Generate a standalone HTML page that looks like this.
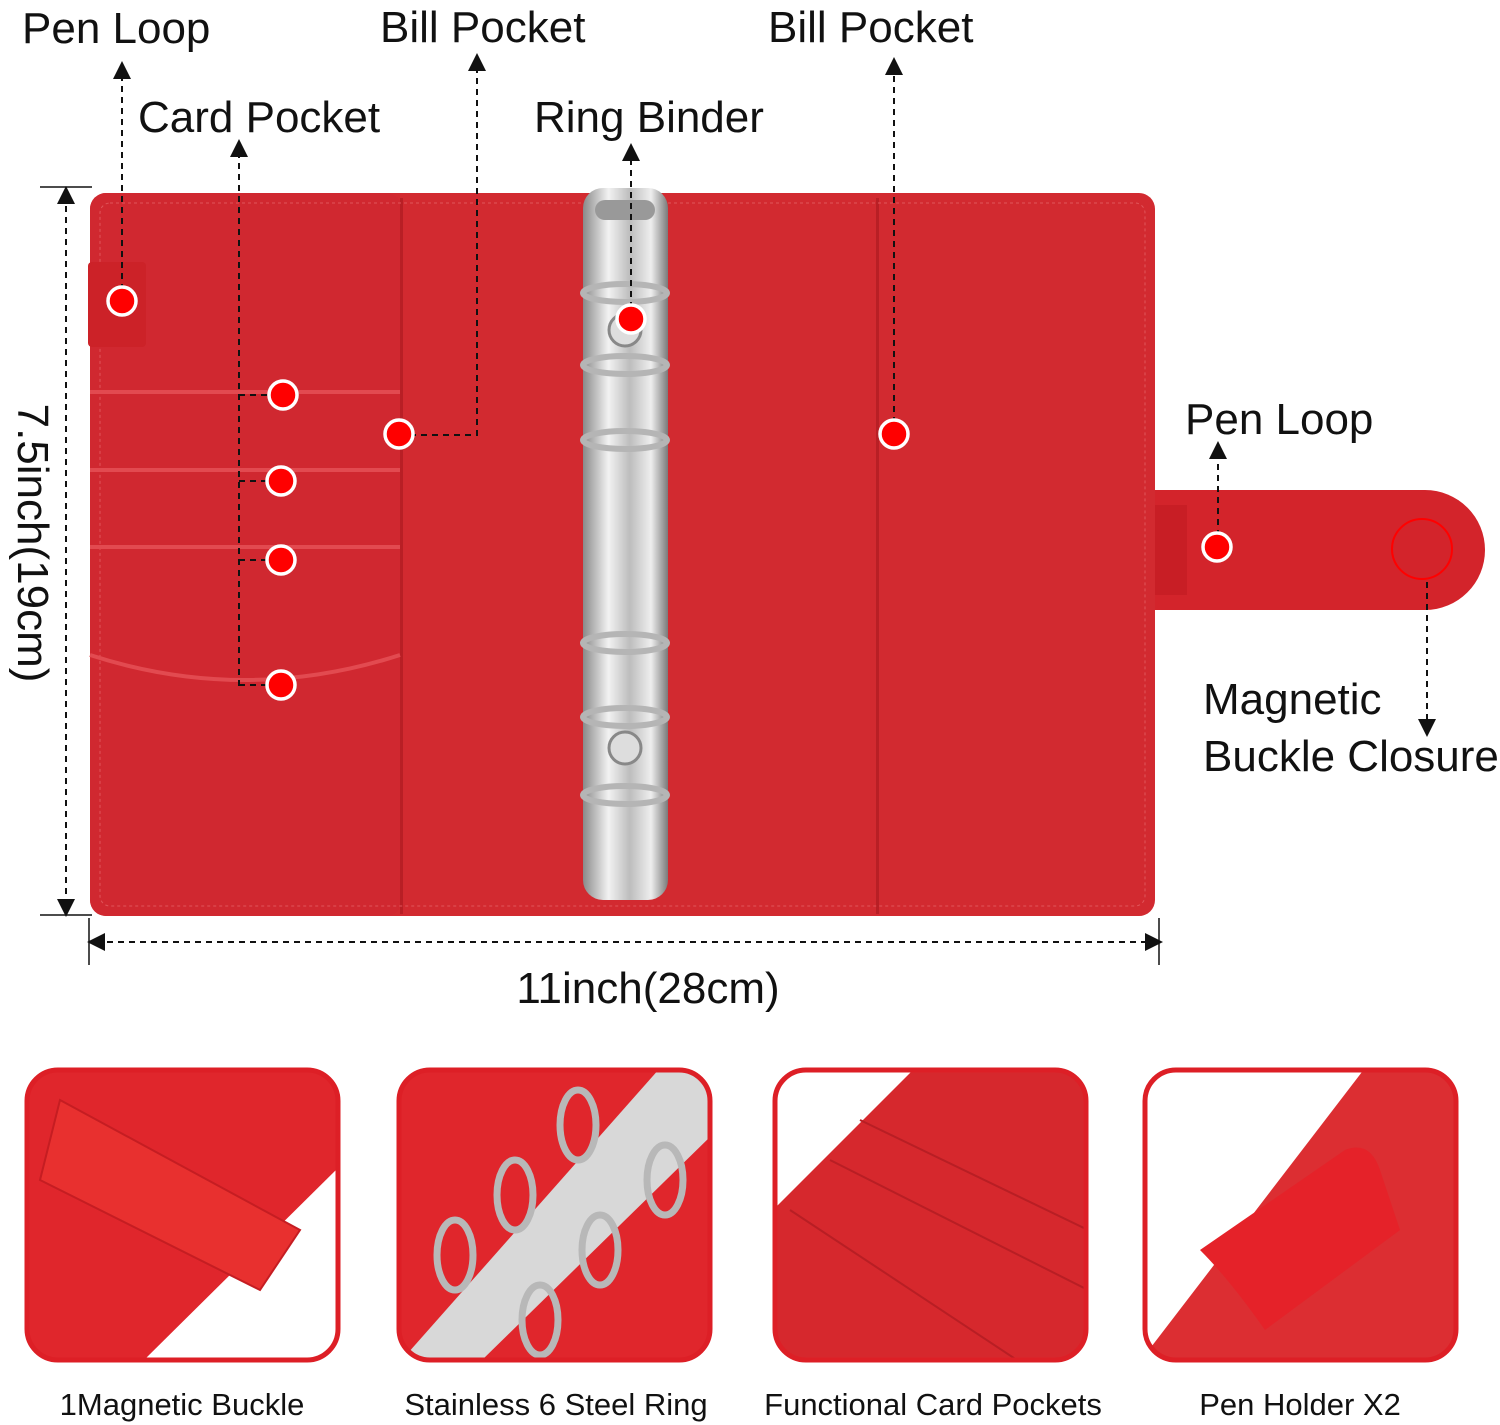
<!DOCTYPE html>
<html><head><meta charset="utf-8"><style>
body{margin:0;background:#fff;width:1500px;height:1425px;overflow:hidden}
svg{display:block}
text{font-family:"Liberation Sans",sans-serif;fill:#111}
</style></head><body>
<svg width="1500" height="1425" viewBox="0 0 1500 1425" xmlns="http://www.w3.org/2000/svg">
<defs>
<linearGradient id="silver" x1="0" x2="1" y1="0" y2="0">
<stop offset="0" stop-color="#8a8a8a"/><stop offset="0.3" stop-color="#f2f2f2"/><stop offset="0.55" stop-color="#bdbdbd"/><stop offset="0.8" stop-color="#eeeeee"/><stop offset="1" stop-color="#7a7a7a"/>
</linearGradient>
<marker id="ar" viewBox="0 0 10 10" refX="5" refY="5" markerWidth="9" markerHeight="9" orient="auto-start-reverse"><path d="M0,0 L10,5 L0,10 z" fill="#111"/></marker>
<clipPath id="c1"><rect x="25" y="1068" width="315" height="294" rx="32"/></clipPath>
<clipPath id="c2"><rect x="397" y="1068" width="315" height="294" rx="32"/></clipPath>
<clipPath id="c3"><rect x="773" y="1068" width="315" height="294" rx="32"/></clipPath>
<clipPath id="c4"><rect x="1143" y="1068" width="315" height="294" rx="32"/></clipPath>
</defs>

<!-- strap -->
<path d="M1140,490 L1425,490 A60,60 0 0 1 1425,610 L1140,610 Z" fill="#d3242b"/>
<rect x="1155" y="505" width="32" height="90" fill="#c81e25"/>
<circle cx="1422" cy="549" r="30" fill="none" stroke="#f00" stroke-width="2"/>

<!-- binder body -->
<rect x="90" y="193" width="1065" height="723" rx="16" fill="#d22a30"/>
<rect x="90" y="193" width="312" height="723" rx="16" fill="#d02830"/>
<rect x="400" y="198" width="3" height="716" fill="#b81f25"/>
<rect x="876" y="198" width="3" height="716" fill="#b81f25"/>
<rect x="100" y="203" width="1045" height="703" rx="10" fill="none" stroke="#e0555a" stroke-width="1" stroke-dasharray="3 3"/>
<!-- card pockets -->
<rect x="90" y="390" width="310" height="4" fill="#e24a50"/>
<rect x="90" y="468" width="310" height="4" fill="#e24a50"/>
<rect x="90" y="545" width="310" height="4" fill="#e24a50"/>
<path d="M90,655 Q245,705 400,655" fill="none" stroke="#e24a50" stroke-width="4"/>
<rect x="88" y="262" width="58" height="85" rx="4" fill="#cc2228"/>

<!-- ring spine -->
<rect x="583" y="188" width="85" height="712" rx="20" fill="url(#silver)"/>
<rect x="595" y="200" width="60" height="20" rx="10" fill="#999"/>
<g fill="none" stroke="#b5b5b5" stroke-width="6">
<ellipse cx="625" cy="293" rx="42" ry="9"/>
<ellipse cx="625" cy="365" rx="42" ry="9"/>
<ellipse cx="625" cy="440" rx="42" ry="9"/>
<ellipse cx="625" cy="643" rx="42" ry="9"/>
<ellipse cx="625" cy="717" rx="42" ry="9"/>
<ellipse cx="625" cy="795" rx="42" ry="9"/>
</g>
<circle cx="625" cy="330" r="16" fill="#ddd" stroke="#888" stroke-width="3"/>
<circle cx="625" cy="748" r="16" fill="#ddd" stroke="#888" stroke-width="3"/>

<!-- connectors -->
<g stroke="#111" stroke-width="2" stroke-dasharray="6 5" fill="none">
<line x1="122" y1="301" x2="122" y2="70" marker-end="url(#ar)"/>
<line x1="239" y1="686" x2="239" y2="148" marker-end="url(#ar)"/>
<line x1="239" y1="395" x2="283" y2="395"/>
<line x1="239" y1="481" x2="281" y2="481"/>
<line x1="239" y1="560" x2="281" y2="560"/>
<line x1="239" y1="685" x2="281" y2="685"/>
<polyline points="399,435 477,435 477,62" marker-end="url(#ar)"/>
<line x1="631" y1="319" x2="631" y2="152" marker-end="url(#ar)"/>
<line x1="894" y1="434" x2="894" y2="66" marker-end="url(#ar)"/>
<line x1="1218" y1="547" x2="1218" y2="450" marker-end="url(#ar)"/>
<line x1="1427" y1="582" x2="1427" y2="728" marker-end="url(#ar)"/>
<line x1="66" y1="195" x2="66" y2="908" marker-start="url(#ar)" marker-end="url(#ar)"/>
<line x1="96" y1="942" x2="1154" y2="942" marker-start="url(#ar)" marker-end="url(#ar)"/>
</g>
<g stroke="#111" stroke-width="1.5">
<line x1="40" y1="187" x2="92" y2="187"/>
<line x1="40" y1="915" x2="92" y2="915"/>
<line x1="89" y1="918" x2="89" y2="965"/>
<line x1="1159" y1="918" x2="1159" y2="965"/>
</g>

<!-- dots -->
<g fill="#f00" stroke="#fff" stroke-width="3.5">
<circle cx="122" cy="301" r="14"/>
<circle cx="283" cy="395" r="14"/>
<circle cx="281" cy="481" r="14"/>
<circle cx="281" cy="560" r="14"/>
<circle cx="281" cy="685" r="14"/>
<circle cx="399" cy="434" r="14"/>
<circle cx="631" cy="319" r="14"/>
<circle cx="894" cy="434" r="14"/>
<circle cx="1217" cy="547" r="14"/>
</g>

<!-- labels -->
<g font-size="44">
<text x="22" y="43">Pen  Loop</text>
<text x="138" y="132">Card Pocket</text>
<text x="380" y="42">Bill Pocket</text>
<text x="534" y="132">Ring Binder</text>
<text x="768" y="42">Bill Pocket</text>
<text x="1185" y="434">Pen  Loop</text>
<text x="1203" y="714">Magnetic</text>
<text x="1203" y="771">Buckle Closure</text>
<text x="648" y="1003" text-anchor="middle">11inch(28cm)</text>
<text transform="translate(18,543) rotate(90)" text-anchor="middle">7.5inch(19cm)</text>
</g>

<!-- thumbnails -->
<g clip-path="url(#c1)">
<rect x="25" y="1068" width="315" height="294" fill="#e0262c"/>
<polygon points="142,1362 340,1166 340,1362" fill="#fff"/>
<path d="M60,1100 L300,1230 L260,1290 L40,1180 Z" fill="#e8302f" stroke="#c51d22" stroke-width="2"/>
</g>
<rect x="27" y="1070" width="311" height="290" rx="31" fill="none" stroke="#dd1f26" stroke-width="5"/>
<g clip-path="url(#c2)">
<rect x="397" y="1068" width="315" height="294" fill="#e0262c"/>
<polygon points="400,1362 480,1362 712,1135 712,1068 660,1068" fill="#d8d8d8"/>
<g fill="none" stroke="#b8b8b8" stroke-width="7">
<ellipse cx="455" cy="1255" rx="18" ry="35"/><ellipse cx="515" cy="1195" rx="18" ry="35"/>
<ellipse cx="578" cy="1125" rx="18" ry="35"/><ellipse cx="540" cy="1320" rx="18" ry="35"/>
<ellipse cx="600" cy="1250" rx="18" ry="35"/><ellipse cx="665" cy="1180" rx="18" ry="35"/>
</g>
</g>
<rect x="399" y="1070" width="311" height="290" rx="31" fill="none" stroke="#dd1f26" stroke-width="5"/>
<g clip-path="url(#c3)">
<rect x="773" y="1068" width="315" height="294" fill="#d6282d"/>
<polygon points="773,1068 915,1068 773,1210" fill="#fff"/>
<g stroke="#b81e24" stroke-width="2" fill="none">
<line x1="860" y1="1120" x2="1088" y2="1230"/>
<line x1="830" y1="1160" x2="1088" y2="1290"/>
<line x1="790" y1="1210" x2="1020" y2="1362"/>
</g>
</g>
<rect x="775" y="1070" width="311" height="290" rx="31" fill="none" stroke="#dd1f26" stroke-width="5"/>
<g clip-path="url(#c4)">
<rect x="1143" y="1068" width="315" height="294" fill="#dc2e32"/>
<polygon points="1143,1068 1365,1068 1145,1355" fill="#fff"/>
<path d="M1200,1250 L1345,1150 Q1370,1140 1380,1170 L1400,1230 L1265,1330 Q1230,1280 1200,1250 Z" fill="#e52229"/>
</g>
<rect x="1145" y="1070" width="311" height="290" rx="31" fill="none" stroke="#dd1f26" stroke-width="5"/>

<g font-size="31">
<text x="182" y="1415" text-anchor="middle">1Magnetic Buckle</text>
<text x="556" y="1415" text-anchor="middle">Stainless 6 Steel Ring</text>
<text x="933" y="1415" text-anchor="middle">Functional Card Pockets</text>
<text x="1300" y="1415" text-anchor="middle">Pen Holder X2</text>
</g>
</svg>
</body></html>
